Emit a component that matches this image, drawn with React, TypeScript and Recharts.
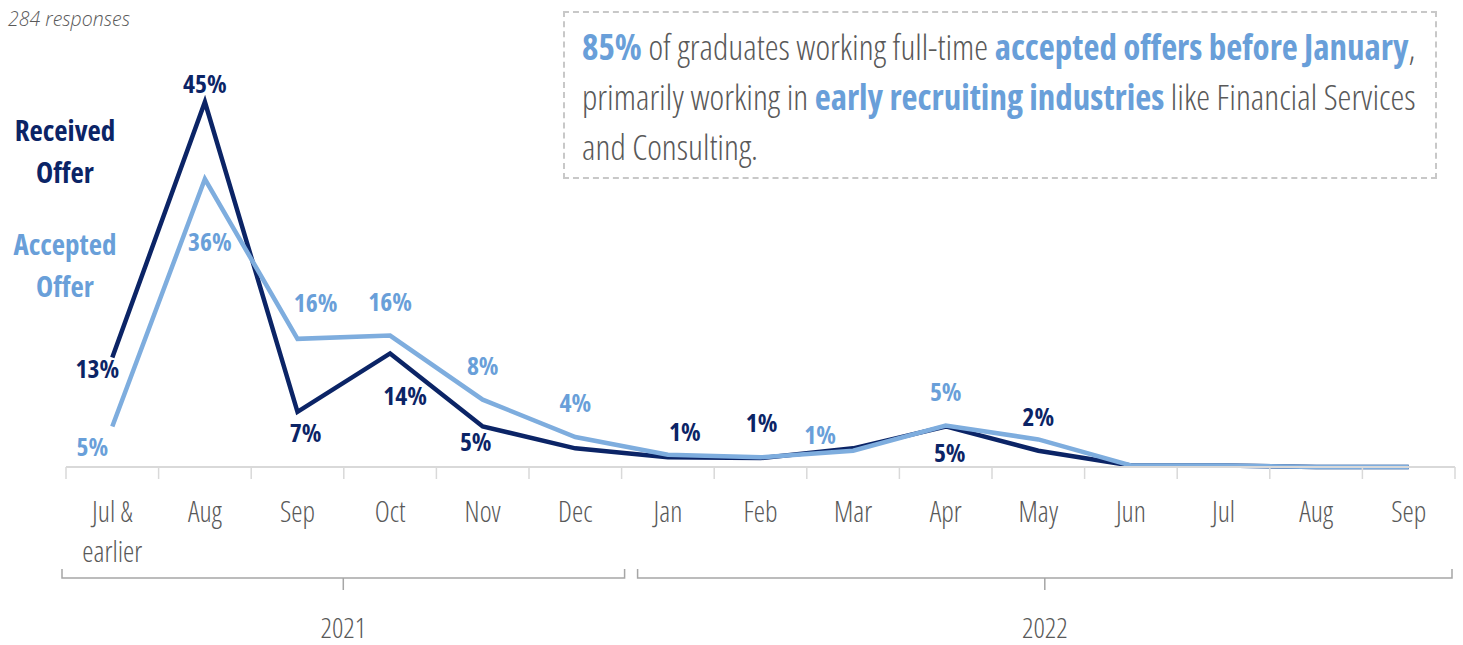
import React from 'react'
import { LineChart, Line, XAxis, YAxis, LabelList } from 'recharts'

const categories = ['Jul & earlier', 'Aug', 'Sep', 'Oct', 'Nov', 'Dec', 'Jan', 'Feb', 'Mar', 'Apr', 'May', 'Jun', 'Jul', 'Aug', 'Sep']
const received = [13.5, 45, 6.8, 14, 5, 2.3, 1.2, 1.1, 2.3, 5, 2, 0.2, 0.2, 0, 0]
const accepted = [5, 35.5, 15.8, 16.2, 8.3, 3.7, 1.5, 1.2, 2, 5.1, 3.4, 0.2, 0.2, 0, 0]
const receivedLabels = ['13%', '45%', '7%', '14%', '5%', null, '1%', '1%', null, '5%', '2%', null, null, null, null]
const acceptedLabels = ['5%', '36%', '16%', '16%', '8%', '4%', null, null, '1%', '5%', null, null, null, null, null]
const years = [
  { label: '2021', start: 0, end: 5 },
  { label: '2022', start: 6, end: 14 },
]

const data = categories.map((month, i) => ({
  key: `${i}`,
  month,
  received: received[i],
  accepted: accepted[i],
}))

const W = 1463
const H = 645
const LEFT = 66
const RIGHT = 1455
const BAND = (RIGHT - LEFT) / categories.length

const DARK = '#0b2466'
const LIGHT = '#7eadde'
const LIGHT_TEXT = '#699fd9'
const GREY = '#595959'
const FONT = "'Open Sans', sans-serif"
const narrow = { fontStretch: '75%' } as React.CSSProperties

// label nudges per point, [dx, dy]
const receivedNudge: Record<number, [number, number]> = {
  0: [-15, 10], 1: [0, -19], 2: [8, 20], 3: [15, 42], 4: [-7, 15],
  6: [17, -26], 7: [1, -36], 9: [4, 26], 10: [0, -35],
}
const acceptedNudge: Record<number, [number, number]> = {
  0: [-20, 20], 1: [5, 62], 2: [18, -37], 3: [0, -35], 4: [0, -35],
  5: [0, -35], 8: [-33, -17], 9: [0, -35],
}

function makeLabel(labels: (string | null)[], nudge: Record<number, [number, number]>, color: string) {
  return (props: any) => {
    const { x, y, index } = props
    const text = labels[index]
    if (!text) return null
    const [dx, dy] = nudge[index] || [0, -30]
    return (
      <text
        x={x + dx}
        y={y + dy}
        textAnchor="middle"
        dominantBaseline="central"
        fill={color}
        fontFamily={FONT}
        fontWeight={700}
        fontSize={25.5}
        style={narrow}
      >
        {text}
      </text>
    )
  }
}

function MonthTick(props: any) {
  const { x, y, payload } = props
  const index = payload.index
  const lines = String(payload.value).split(/(?<=&) /)
  const year = years.find((yr) => yr.start === index)
  let bracket = null
  if (year) {
    const x0 = LEFT + year.start * BAND + (year.start === 0 ? -4 : 16)
    const x1 = LEFT + (year.end + 1) * BAND + (year.end === categories.length - 1 ? -3 : 3)
    const mid = (x0 + x1) / 2
    const by = y + 111
    bracket = (
      <g>
        <path
          d={`M${x0},${by - 9} L${x0},${by} L${x1},${by} L${x1},${by - 9} M${mid},${by} L${mid},${by + 12}`}
          stroke="#a6a6a6"
          strokeWidth={1.5}
          fill="none"
        />
        <text x={mid} y={y + 160} textAnchor="middle" dominantBaseline="central" fill={GREY}
          fontFamily={FONT} fontWeight={300} fontSize={28} style={narrow}>
          {year.label}
        </text>
      </g>
    )
  }
  return (
    <g>
      <line x1={x - BAND / 2} x2={x - BAND / 2} y1={y} y2={y + 12} stroke="#d9d9d9" strokeWidth={1.5} />
      {index === categories.length - 1 && (
        <line x1={x + BAND / 2} x2={x + BAND / 2} y1={y} y2={y + 12} stroke="#d9d9d9" strokeWidth={1.5} />
      )}
      {lines.map((ln, i) => (
        <text key={i} x={x} y={y + 44 + i * 40} textAnchor="middle" dominantBaseline="central" fill={GREY}
          fontFamily={FONT} fontWeight={300} fontSize={28.5} style={narrow}>
          {ln}
        </text>
      ))}
      {bracket}
    </g>
  )
}

export default function App() {
  const hl = { color: LIGHT_TEXT, fontWeight: 700 }
  return (
    <div style={{ position: 'absolute', left: 0, top: 0, width: W, height: H, background: '#fff', fontFamily: FONT }}>
      <LineChart width={W} height={H} data={data} margin={{ top: 102, right: W - RIGHT, left: LEFT, bottom: 0 }}>
        <XAxis
          dataKey="month"
          height={178}
          interval={0}
          tickSize={0}
          tickMargin={0}
          tickLine={false}
          axisLine={{ stroke: '#d9d9d9', strokeWidth: 2 }}
          padding={{ left: BAND / 2, right: BAND / 2 }}
          tick={<MonthTick />}
        />
        <YAxis hide domain={[0, 45]} />
        <Line
          dataKey="received"
          stroke={DARK}
          strokeWidth={4.5}
          dot={false}
          isAnimationActive={false}
        >
          <LabelList dataKey="received" content={makeLabel(receivedLabels, receivedNudge, DARK)} />
        </Line>
        <Line
          dataKey="accepted"
          stroke={LIGHT}
          strokeWidth={4.5}
          dot={false}
          isAnimationActive={false}
        >
          <LabelList dataKey="accepted" content={makeLabel(acceptedLabels, acceptedNudge, LIGHT_TEXT)} />
        </Line>
      </LineChart>

      <div style={{ position: 'absolute', left: 8, top: 5, fontSize: 19.5, fontStyle: 'italic', fontWeight: 300, color: GREY, fontStretch: '100%' }}>
        284 responses
      </div>

      <div style={{ position: 'absolute', left: 0, top: 109, width: 130, textAlign: 'center', fontSize: 29, fontWeight: 700, lineHeight: '42px', color: DARK, ...narrow }}>
        Received<br />Offer
      </div>
      <div style={{ position: 'absolute', left: 0, top: 223, width: 130, textAlign: 'center', fontSize: 29, fontWeight: 700, lineHeight: '42px', color: LIGHT_TEXT, ...narrow }}>
        Accepted<br />Offer
      </div>

      <div style={{
        position: 'absolute', left: 563, top: 11, width: 874, height: 168, boxSizing: 'border-box',
        border: '2px dashed #c8c8c8', padding: '9px 10px 0 17px', fontSize: 35, fontWeight: 300,
        lineHeight: '50px', color: GREY, whiteSpace: 'nowrap', ...narrow,
      }}>
        <span style={hl}>85%</span> of graduates working full-time <span style={hl}>accepted offers before January</span>,<br />
        primarily working in <span style={hl}>early recruiting industries</span> like Financial Services<br />
        and Consulting.
      </div>
    </div>
  )
}
